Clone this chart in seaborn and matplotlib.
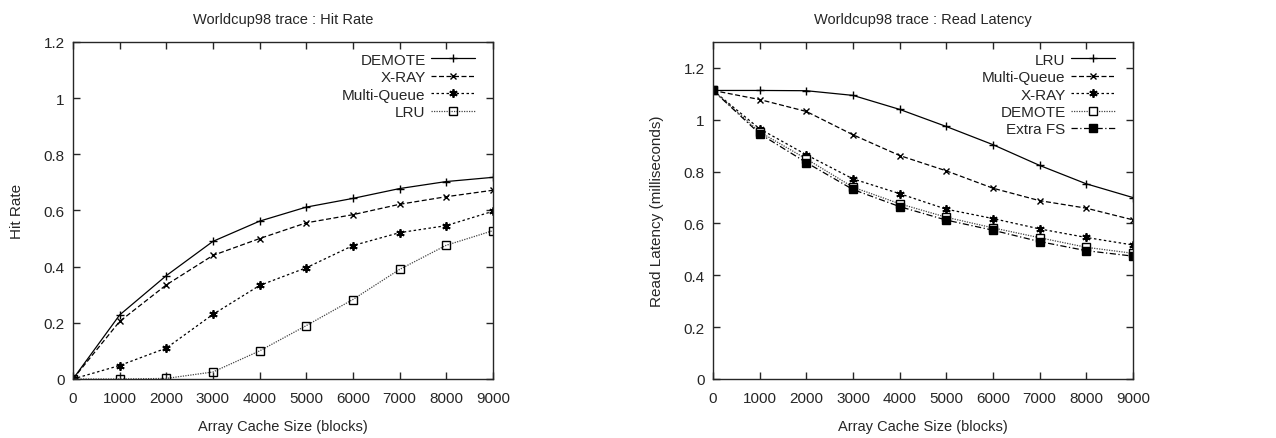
import matplotlib
matplotlib.use("Agg")
import matplotlib.pyplot as plt
import seaborn as sns

# cache size in blocks
sizes = [0, 1000, 2000, 3000, 4000, 5000, 6000, 7000, 8000, 9000]

# hit rate panel
hit_demote = [0, 0.228, 0.368, 0.490, 0.562, 0.612, 0.643, 0.678, 0.703, 0.718]
hit_xray = [0, 0.205, 0.335, 0.440, 0.500, 0.556, 0.585, 0.622, 0.649, 0.672]
hit_mq = [0, 0.048, 0.110, 0.230, 0.333, 0.396, 0.475, 0.521, 0.546, 0.597]
hit_lru = [0, 0.0, 0.002, 0.025, 0.100, 0.190, 0.283, 0.390, 0.476, 0.528]

# read latency panel (ms)
lat_lru = [1.113, 1.113, 1.112, 1.094, 1.040, 0.974, 0.904, 0.824, 0.753, 0.700]
lat_mq = [1.113, 1.078, 1.032, 0.942, 0.862, 0.803, 0.736, 0.688, 0.659, 0.614]
lat_xray = [1.113, 0.965, 0.865, 0.772, 0.715, 0.655, 0.619, 0.579, 0.546, 0.517]
lat_demote = [1.113, 0.953, 0.849, 0.740, 0.676, 0.624, 0.583, 0.545, 0.508, 0.485]
lat_extra = [1.113, 0.946, 0.835, 0.731, 0.665, 0.613, 0.574, 0.530, 0.495, 0.474]

sns.set_style("ticks")
plt.rcParams['font.family'] = ['Liberation Sans', 'DejaVu Sans']

star = (6, 2, 0)
fig = plt.figure(figsize=(12.76, 4.39), dpi=100)
ax1 = fig.add_axes([0.0572, 0.1344, 0.329, 0.7677])
ax2 = fig.add_axes([0.5588, 0.1344, 0.329, 0.7677])

left = [
    ("DEMOTE", hit_demote, "-", "+", "black", dict(ms=6, mew=1, mec="black")),
    ("X-RAY", hit_xray, (0, (4, 2)), "x", "black", dict(ms=5, mew=1, mec="black")),
    ("Multi-Queue", hit_mq, (0, (2, 2)), star, "black", dict(ms=6, mew=1.3, mec="black")),
    ("LRU", hit_lru, (0, (1, 1)), "s", "#444444", dict(ms=5.5, mew=1, mfc="none", mec="black")),
]
right = [
    ("LRU", lat_lru, "-", "+", "black", dict(ms=6, mew=1, mec="black")),
    ("Multi-Queue", lat_mq, (0, (4, 2)), "x", "black", dict(ms=5, mew=1, mec="black")),
    ("X-RAY", lat_xray, (0, (2, 2)), star, "black", dict(ms=6, mew=1.3, mec="black")),
    ("DEMOTE", lat_demote, (0, (1, 1)), "s", "#444444", dict(ms=5.5, mew=1, mfc="white", mec="black")),
    ("Extra FS", lat_extra, (0, (5, 2, 1, 2)), "s", "black", dict(ms=5.5, mew=1, mfc="black", mec="black")),
]

for ax, series in [(ax1, left), (ax2, right)]:
    for name, vals, ls, mk, col, kw in series:
        sns.lineplot(x=sizes, y=vals, ax=ax, label=name, color=col, linestyle=ls,
                     marker=mk, lw=0.9, **kw)

ylabs = ["0", "0.2", "0.4", "0.6", "0.8", "1", "1.2"]
ax1.set_ylim(0, 1.2)
ax1.set_yticks([0, 0.2, 0.4, 0.6, 0.8, 1.0, 1.2])
ax1.set_yticklabels(ylabs)
ax1.set_ylabel("Hit Rate", fontsize=11, labelpad=14)
ax1.set_title("Worldcup98 trace : Hit Rate", fontsize=10.5, pad=14)

ax2.set_ylim(0, 1.3)
ax2.set_yticks([0, 0.2, 0.4, 0.6, 0.8, 1.0, 1.2])
ax2.set_yticklabels(ylabs)
ax2.set_ylabel("Read Latency (milliseconds)", fontsize=11, labelpad=14)
ax2.set_title("Worldcup98 trace : Read Latency", fontsize=10.5, pad=14)

for ax in (ax1, ax2):
    ax.set_xlim(0, 9000)
    ax.set_xticks(sizes)
    ax.set_xlabel("Array Cache Size (blocks)", fontsize=10.5, labelpad=10)
    ax.tick_params(direction="in", top=True, right=True, labelsize=11, length=5, width=1)
    ax.tick_params(axis="x", pad=9)
    ax.tick_params(axis="y", pad=6)
    for s in ax.spines.values():
        s.set_visible(True)
        s.set_linewidth(1)
    # markerfirst=False puts the sample after the right-aligned label, gnuplot style
    ax.legend(loc="upper right", bbox_to_anchor=(1.0, 1.02), frameon=False,
              markerfirst=False, fontsize=11, handlelength=2.9, labelspacing=0.22,
              borderaxespad=0.75, handletextpad=0.35)

fig.savefig("out.png", dpi=100)
